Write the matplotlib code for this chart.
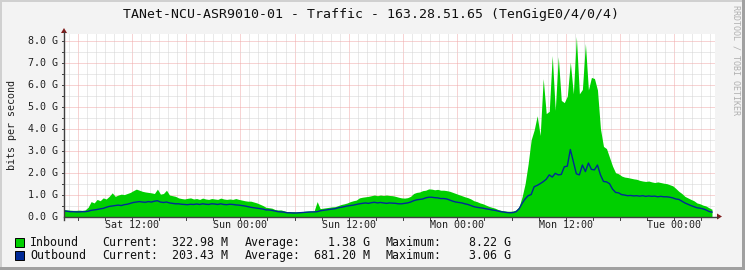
import numpy as np
import matplotlib.pyplot as plt
from matplotlib.patches import Rectangle, Polygon

# samples every 20 minutes, first sample = Sat 04:30, values in Gbit/s
inbound = [
    0.32, 0.30, 0.29, 0.28, 0.28, 0.29, 0.28, 0.30, 0.42, 0.68, 0.62, 0.78,
    0.72, 0.85, 0.80, 0.92, 1.08, 0.92, 0.98, 1.02, 1.00, 1.05, 1.10, 1.18,
    1.25, 1.20, 1.15, 1.12, 1.10, 1.08, 1.05, 1.25, 1.02, 1.05, 1.20, 0.98,
    0.95, 0.92, 0.85, 0.82, 0.80, 0.83, 0.85, 0.80, 0.82, 0.78, 0.84, 0.80,
    0.78, 0.82, 0.80, 0.78, 0.84, 0.80, 0.78, 0.80, 0.78, 0.82, 0.78, 0.75,
    0.72, 0.70, 0.70, 0.66, 0.62, 0.56, 0.50, 0.42, 0.40, 0.38, 0.32, 0.30,
    0.30, 0.26, 0.22, 0.22, 0.22, 0.21, 0.22, 0.22, 0.24, 0.25, 0.25, 0.26,
    0.68, 0.36, 0.38, 0.40, 0.42, 0.44, 0.45, 0.50, 0.55, 0.58, 0.62, 0.68,
    0.72, 0.75, 0.85, 0.88, 0.90, 0.92, 0.95, 0.98, 0.95, 0.98, 0.96, 0.98,
    0.96, 0.95, 0.92, 0.88, 0.85, 0.84, 0.86, 0.92, 1.05, 1.10, 1.12, 1.18,
    1.20, 1.26, 1.25, 1.22, 1.24, 1.20, 1.20, 1.18, 1.15, 1.10, 1.05, 1.00,
    0.95, 0.90, 0.86, 0.80, 0.72, 0.68, 0.62, 0.58, 0.52, 0.46, 0.42, 0.38,
    0.32, 0.28, 0.26, 0.24, 0.24, 0.25, 0.30, 0.45, 0.90, 1.50, 2.40, 3.50,
    3.95, 4.60, 3.70, 6.30, 4.70, 4.80, 7.35, 4.85, 7.30, 5.30, 5.20, 5.50,
    7.05, 5.60, 8.22, 5.60, 5.80, 7.90, 5.78, 6.35, 6.30, 5.78, 4.00, 3.20,
    3.10, 2.70, 2.30, 2.00, 1.95, 1.85, 1.80, 1.78, 1.75, 1.72, 1.70, 1.65,
    1.62, 1.60, 1.62, 1.58, 1.55, 1.58, 1.55, 1.52, 1.50, 1.45, 1.40, 1.28,
    1.15, 1.05, 0.92, 0.85, 0.78, 0.72, 0.62, 0.58, 0.52, 0.48, 0.40, 0.33,
]
outbound = [
    0.25, 0.24, 0.22, 0.22, 0.21, 0.21, 0.22, 0.22, 0.24, 0.28, 0.30, 0.32,
    0.35, 0.37, 0.42, 0.46, 0.48, 0.50, 0.52, 0.50, 0.54, 0.56, 0.60, 0.64,
    0.66, 0.68, 0.66, 0.65, 0.68, 0.66, 0.70, 0.72, 0.66, 0.64, 0.66, 0.62,
    0.60, 0.58, 0.58, 0.56, 0.55, 0.54, 0.56, 0.55, 0.57, 0.55, 0.58, 0.56,
    0.55, 0.58, 0.57, 0.55, 0.58, 0.55, 0.54, 0.56, 0.55, 0.53, 0.52, 0.50,
    0.48, 0.45, 0.42, 0.40, 0.38, 0.36, 0.34, 0.30, 0.30, 0.28, 0.25, 0.22,
    0.21, 0.20, 0.17, 0.17, 0.16, 0.16, 0.17, 0.18, 0.19, 0.20, 0.21, 0.21,
    0.22, 0.26, 0.28, 0.30, 0.32, 0.34, 0.36, 0.40, 0.42, 0.45, 0.48, 0.50,
    0.52, 0.55, 0.58, 0.60, 0.62, 0.60, 0.63, 0.65, 0.62, 0.64, 0.62, 0.60,
    0.62, 0.61, 0.60, 0.58, 0.58, 0.60, 0.62, 0.66, 0.72, 0.76, 0.78, 0.80,
    0.85, 0.88, 0.88, 0.86, 0.85, 0.82, 0.82, 0.80, 0.75, 0.70, 0.66, 0.64,
    0.62, 0.58, 0.55, 0.50, 0.45, 0.42, 0.40, 0.38, 0.35, 0.33, 0.30, 0.28,
    0.25, 0.22, 0.20, 0.18, 0.17, 0.18, 0.22, 0.35, 0.60, 0.80, 0.95, 1.00,
    1.36, 1.42, 1.50, 1.59, 1.70, 1.90, 1.80, 1.97, 1.90, 1.92, 2.27, 2.30,
    3.06, 2.50, 1.95, 1.90, 2.35, 2.05, 2.44, 2.15, 2.13, 2.35, 1.90, 1.60,
    1.58, 1.50, 1.25, 1.10, 1.08, 1.00, 0.98, 0.95, 0.96, 0.94, 0.95, 0.93,
    0.95, 0.92, 0.94, 0.92, 0.93, 0.90, 0.92, 0.90, 0.90, 0.88, 0.85, 0.80,
    0.78, 0.70, 0.62, 0.56, 0.50, 0.45, 0.40, 0.38, 0.35, 0.30, 0.23, 0.20,
]

tick_hours = [7.5, 19.5, 31.5, 43.5, 55.5, 67.5]
tick_labels = ['Sat 12:00', 'Sun 00:00', 'Sun 12:00', 'Mon 00:00', 'Mon 12:00', 'Tue 00:00']
y_ticks = [0, 1, 2, 3, 4, 5, 6, 7, 8]

legend_names = ['Inbound', 'Outbound']
legend_current = ['322.98 M', '203.43 M']
legend_average = ['1.38 G', '681.20 M']
legend_maximum = ['8.22 G', '3.06 G']

title = 'TANet-NCU-ASR9010-01 - Traffic - 163.28.51.65 (TenGigE0/4/0/4)'

GREEN = '#00cf00'
BLUE = '#002a97'
MONO = 'DejaVu Sans Mono'

W, H = 745, 270
X0, X1 = 64, 715          # plot area in pixels
Y0, YTOP = 216.5, 34      # zero line and top
PX_PER_G = 21.9

fig = plt.figure(figsize=(W / 100, H / 100), dpi=100)
fig.patch.set_facecolor('#f3f3f3')

ax = fig.add_axes([X0 / W, (H - Y0) / H, (X1 - X0) / W, (Y0 - YTOP) / H])
ax.set_facecolor('white')
ax.set_xlim(0, 72)
ax.set_ylim(0, (Y0 - YTOP) / PX_PER_G)
for s in ax.spines.values():
    s.set_visible(False)
ax.set_xticks([])
ax.set_yticks([])

# grid: minor every hour / 0.5 G, major every 6 h / 1 G
dot = (0, (1, 1))
for k in range(72):
    h = 0.5 + k
    major = (k - 1) % 6 == 0
    ax.axvline(h, color='#f0a8a8' if major else '#d4d4d4', lw=0.72, ls=dot, zorder=1)
for k in range(1, 17):
    v = k * 0.5
    major = k % 2 == 0
    ax.axhline(v, color='#f0a8a8' if major else '#d4d4d4', lw=0.72, ls=dot, zorder=1)

t = np.arange(len(inbound)) / 3.0
ax.fill_between(t, 0, inbound, color=GREEN, lw=0, zorder=2)
ax.plot(t, outbound, color=BLUE, lw=1.0, zorder=3)

# overlay in pixel coordinates for axes, arrows and text
ov = fig.add_axes([0, 0, 1, 1], zorder=5)
ov.set_xlim(0, W)
ov.set_ylim(H, 0)
ov.axis('off')
ov.patch.set_alpha(0)

# 3d-ish border
ov.add_patch(Rectangle((0, 0), W, 1.5, color='#d0d0d0', lw=0))
ov.add_patch(Rectangle((0, 0), 1.5, H, color='#d0d0d0', lw=0))
ov.add_patch(Rectangle((W - 3, 0), 3, H, color='#a0a0a0', lw=0))
ov.add_patch(Rectangle((0, H - 3), W, 3, color='#a0a0a0', lw=0))

ax_col = '#404040'
ov.plot([X0, X1 + 3], [Y0, Y0], color=ax_col, lw=1.0)
ov.plot([X0, X0], [Y0 + 3, YTOP - 2], color=ax_col, lw=1.0)
ov.add_patch(Polygon([[X1 + 2, Y0 - 3], [X1 + 2, Y0 + 3], [X1 + 7, Y0]], color='#7f1d1d', lw=0))
ov.add_patch(Polygon([[X0 - 3, YTOP - 1], [X0 + 3, YTOP - 1], [X0, YTOP - 6]], color='#7f1d1d', lw=0))

# axis ticks
px_per_h = (X1 - X0) / 72
for k in range(24):
    x = X0 + (1.5 + 3 * k) * px_per_h
    ov.plot([x, x], [Y0, Y0 + 3], color=ax_col, lw=0.7)
for k in range(1, 17):
    y = Y0 - k * 0.5 * PX_PER_G
    ov.plot([X0 - 2, X0], [y, y], color=ax_col, lw=0.7)

for h, lab in zip(tick_hours, tick_labels):
    ov.text(X0 + h * px_per_h, 225.5, lab, ha='center', va='center',
            family=MONO, fontsize=7.2, color='#202020')
for v in y_ticks:
    ov.text(57.5, Y0 - v * PX_PER_G, f'{v:.1f} G', ha='right', va='center',
            family=MONO, fontsize=7.2, color='#202020')

ov.text(12, 125, 'bits per second', rotation=90, ha='center', va='center',
        family=MONO, fontsize=7.2, color='#202020')
ov.text(371, 14.5, title, ha='center', va='center', family=MONO, fontsize=9.5, color='#101010')
ov.text(736, 60, 'RRDTOOL / TOBI OETIKER', rotation=270, ha='center', va='center',
        family=MONO, fontsize=6, color='#b0b0b0')

# legend
colors = [GREEN, BLUE]
for i in range(2):
    yc = 242.3 + i * 13.4
    ov.add_patch(Rectangle((15, yc - 4.5), 9, 9, facecolor=colors[i], edgecolor='black', lw=0.7))
    kw = dict(va='center', family=MONO, fontsize=8.4, color='#101010')
    ov.text(30, yc, legend_names[i], ha='left', **kw)
    ov.text(102, yc, 'Current:', ha='left', **kw)
    ov.text(228.5, yc, legend_current[i], ha='right', **kw)
    ov.text(245, yc, 'Average:', ha='left', **kw)
    ov.text(370, yc, legend_average[i], ha='right', **kw)
    ov.text(386, yc, 'Maximum:', ha='left', **kw)
    ov.text(511, yc, legend_maximum[i], ha='right', **kw)

fig.savefig('out.png', dpi=100, facecolor=fig.get_facecolor())
